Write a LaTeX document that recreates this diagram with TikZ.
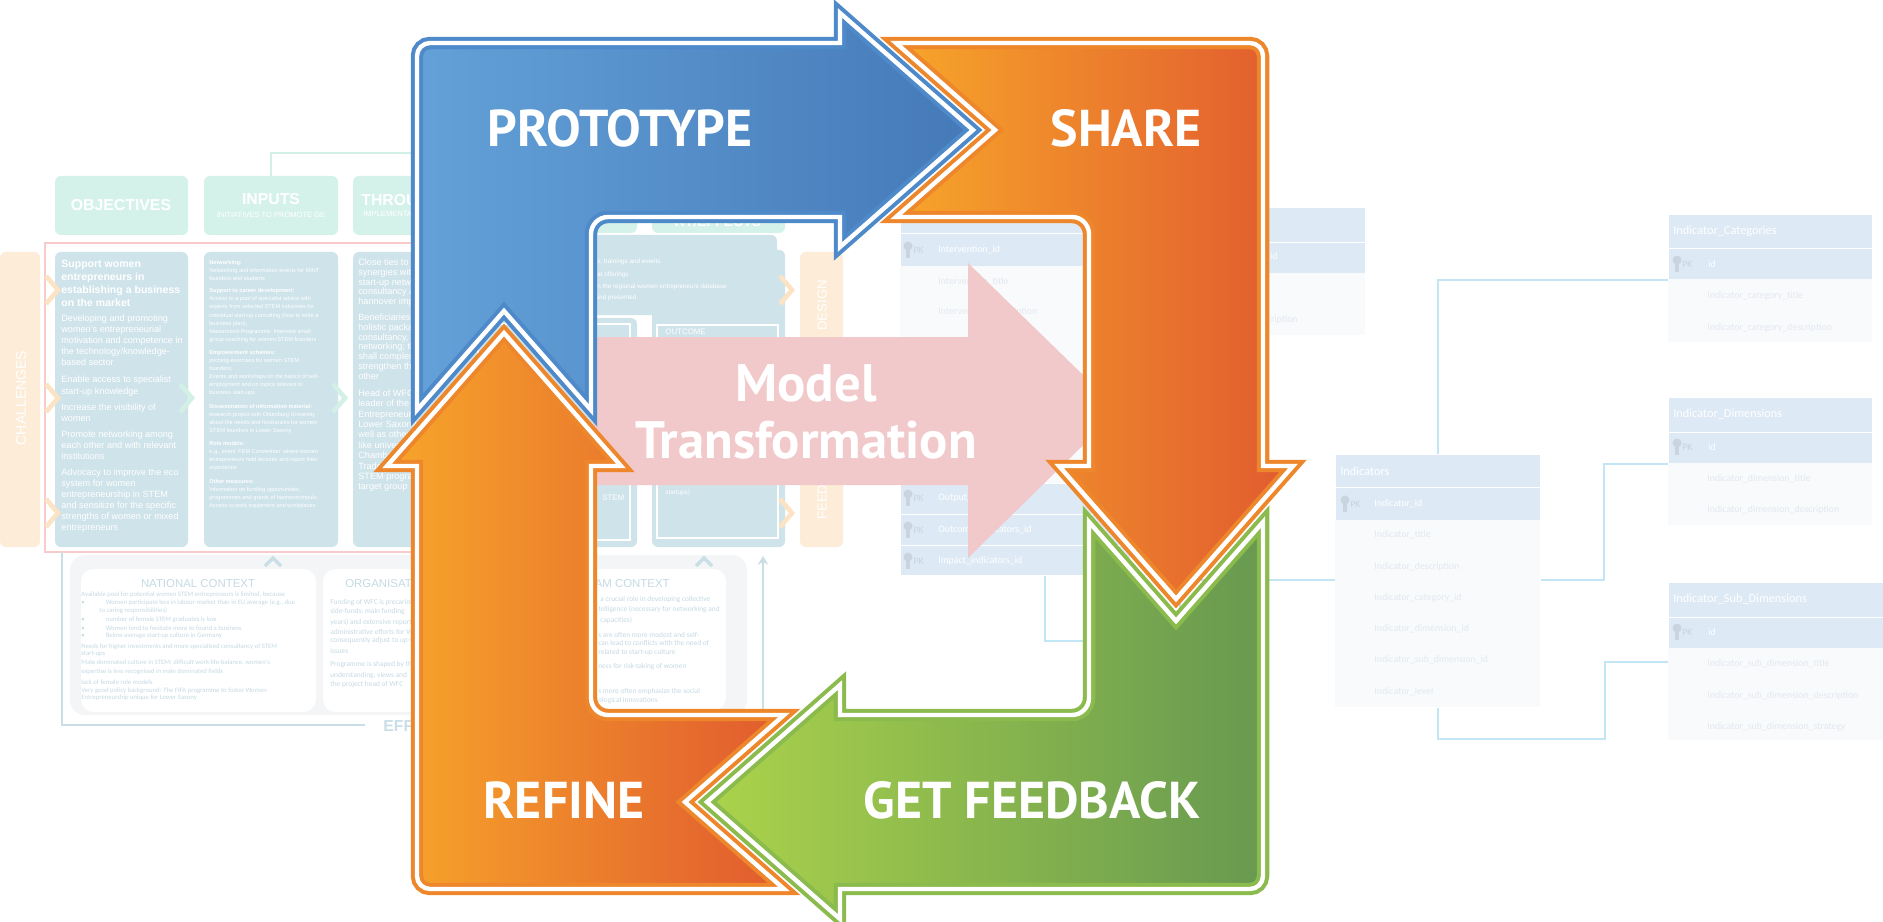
\documentclass[tikz,border=0pt]{standalone}
\usepackage{fontspec}
\setmainfont{Liberation Sans}
\newfontfamily\cycfont{PT Sans}
\newfontfamily\ctxfont{Carlito}
\usetikzlibrary{calc}
\usetikzlibrary{arrows.meta}

\definecolor{mintc}{HTML}{D5F2EA}
\definecolor{mintchev}{HTML}{D2F0E6}
\definecolor{colc}{HTML}{CFE3EA}
\definecolor{peachc}{HTML}{FDEDD8}
\definecolor{peachchev}{HTML}{FBE3C4}
\definecolor{pinkline}{HTML}{F9CACA}
\definecolor{ctxbg}{HTML}{F4F5F6}
\definecolor{ctxtxt}{HTML}{C5DAE4}
\definecolor{frameln}{HTML}{CADEE6}
\definecolor{erhd}{HTML}{DDE9F5}
\definecolor{erbd}{HTML}{F9FAFB}
\definecolor{ertxtc}{HTML}{E2E9F1}
\definecolor{erln}{HTML}{C3E6F6}
\definecolor{keyc}{HTML}{C9D4DE}
\definecolor{modelc}{HTML}{F1C9CA}
\definecolor{blueA}{HTML}{63A1D8}
\definecolor{blueB}{HTML}{4579B8}
\definecolor{blueL}{HTML}{4E8ACA}
\definecolor{orA}{HTML}{F7A62A}
\definecolor{orB}{HTML}{E15A2F}
\definecolor{orL}{HTML}{EE872C}
\definecolor{grA}{HTML}{ABD34B}
\definecolor{grB}{HTML}{679950}
\definecolor{grL}{HTML}{8BBA4D}

\tikzset{
  whtxt/.style={text=white, inner sep=0pt, anchor=north west, align=left},
  ctxtext/.style={text=ctxtxt, inner sep=0pt, anchor=west, font=\ctxfont\fontsize{3.8}{4.4}\selectfont},
  orgtext/.style={text=ctxtxt, inner sep=0pt, anchor=west, font=\ctxfont\fontsize{4.2}{5}\selectfont},
  ctxtitle/.style={text=ctxtxt, inner sep=0pt, font=\fontsize{6.5}{7}\selectfont},
  ertext/.style={inner sep=0pt, anchor=west, font=\ctxfont\fontsize{5.6}{6}\selectfont},
  ertitle/.style={inner sep=0pt, anchor=west, text=white, font=\ctxfont\fontsize{7}{8}\selectfont},
  tblhead/.style={fill=erhd, draw=white, line width=0.5pt, inner sep=0pt, anchor=north west},
  tblbody/.style={fill=erbd, inner sep=0pt, anchor=north west},
  erlink/.style={draw=erln, line width=1.3pt},
  hdrbox/.style={fill=mintc, rounded corners=0.12cm},
  colbox/.style={fill=colc, rounded corners=0.12cm},
  peachbox/.style={fill=peachc, rounded corners=0.12cm},
  chevron/.style={line width=2.6pt, line join=miter},
  caret/.style={draw=frameln, line width=2pt, line join=miter},
  cycarrow/.style={line width=2.3pt, double=white, double distance=2.5pt, line join=miter},
  cyclab/.style={text=white, inner sep=0pt, font=\cycfont\bfseries\fontsize{29.5}{32}\selectfont},
}

% key sign of a primary key row
\newcommand{\pkmark}[3]{%
  \fill[keyc] (#2,#3-4) circle[radius=4.5];
  \fill[keyc] (#2-1.8,#3-1) rectangle (#2+1.8,#3+8);
  \node[ertext, text=keyc] (#1) at (#2+5,#3) {PK};
}
\newcommand{\ertxt}[5]{\node[ertext, text=#4] (#1) at (#2,#3) {#5};}
\newcommand{\ctxline}[4]{\node[ctxtext] (#1) at (#2,#3) {#4};}
\newcommand{\orgline}[4]{\node[orgtext] (#1) at (#2,#3) {#4};}

\begin{document}
\begin{tikzpicture}[x=0.02cm, y=-0.02cm]
\useasboundingbox (0,0) rectangle (1883,922);
\fill[white] (0,0) rectangle (1883,922);

%%% faded logic model (left)
\draw[mintchev, line width=1.4pt] (271,176) -- (271,153) -- (414,153);
\path[hdrbox] (55,176) rectangle (188,235);
\path[hdrbox] (204,176) rectangle (338,235);
\path[hdrbox] (353,176) rectangle (490,235);
\node[text=white, font=\bfseries\fontsize{9}{10}\selectfont] (objh) at (121,205) {OBJECTIVES};
\node[text=white, font=\bfseries\fontsize{9}{10}\selectfont] (inph) at (271,199) {INPUTS};
\node[text=white, font=\fontsize{4.3}{5}\selectfont] (inpsub) at (271,215) {INITIATIVES TO PROMOTE GE};
\node[text=white, anchor=west, inner sep=0pt, font=\bfseries\fontsize{9}{10}\selectfont] (thrh) at (361,200) {THROU};
\node[text=white, anchor=west, inner sep=0pt, font=\fontsize{4.3}{5}\selectfont] (thrsub) at (363,214) {IMPLEMENTAT};

\draw[pinkline, line width=1.4pt] (45,243) rectangle (560,552);
\path[peachbox] (0,252) rectangle (40,547);
\node[text=white, rotate=90, font=\fontsize{8}{9}\selectfont] (chal) at (21,398) {CHALLENGES};
\path[colbox] (55,252) rectangle (188,547);
\path[colbox] (204,252) rectangle (338,547);
\path[colbox] (353,252) rectangle (500,547);

\foreach \yy in {290,398,513}
  \draw[chevron, peachchev] (46,\yy-14) -- (58,\yy) -- (46,\yy+14);
\draw[chevron, mintchev] (180,384) -- (192,398) -- (180,412);
\draw[chevron, mintchev] (333,384) -- (345,398) -- (333,412);

\node[whtxt, font=\bfseries\fontsize{6}{7.3}\selectfont] (objA) at (61,260)
  {Support women\\entrepreneurs in\\establishing a business\\on the market};
\node[whtxt, font=\fontsize{5.2}{6.3}\selectfont] (objB) at (61,314.5)
  {Developing and promoting\\women's entrepreneurial\\motivation and competence in\\the technology/knowledge-\\based sector};
\node[whtxt, font=\fontsize{5.2}{6.6}\selectfont] (objC) at (61,375.5)
  {Enable access to specialist\\start-up knowledge};
\node[whtxt, font=\fontsize{5.2}{6.3}\selectfont] (objD) at (61,403.5)
  {Increase the visibility of\\women};
\node[whtxt, font=\fontsize{5.2}{6.3}\selectfont] (objE) at (61,430.5)
  {Promote networking among\\each other and with relevant\\institutions};
\node[whtxt, font=\fontsize{5.2}{6.3}\selectfont] (objF) at (61,468.5)
  {Advocacy to improve the eco\\system for women\\entrepreneurship in STEM\\and sensitize for the specific\\strengths of women or mixed\\entrepreneurs};

\node[whtxt, font=\fontsize{3.2}{4.6}\selectfont] (inA) at (209,260)
  {\textbf{Networking:}\\Networking and information events for MINT\\founders and students};
\node[whtxt, font=\fontsize{3.2}{4.7}\selectfont] (inB) at (209,288)
  {\textbf{Support to career development:}\\Access to a pool of specialist advice with\\experts from selected STEM industries for\\individual start-up consulting (how to write a\\business plan);\\Mastermind-Programme: Intensive small\\group-coaching for women STEM founders};
\node[whtxt, font=\fontsize{3.2}{4.6}\selectfont] (inC) at (209,350)
  {\textbf{Empowerment schemes:}\\pitching-exercises for women STEM\\founders;\\Events and workshops on the basics of self-\\employment and on topics relevant to\\business start-ups};
\node[whtxt, font=\fontsize{3.2}{4.6}\selectfont] (inD) at (209,404)
  {\textbf{Dissemination of information material:}\\research project with Oldenburg University\\about the needs and hindrances for women\\STEM founders in Lower Saxony};
\node[whtxt, font=\fontsize{3.2}{4.6}\selectfont] (inE) at (209,441)
  {\textbf{Role models:}\\e.g., event `FEM Convention' where women\\entrepreneurs hold lectures and report their\\experience};
\node[whtxt, font=\fontsize{3.2}{4.6}\selectfont] (inF) at (209,479)
  {\textbf{Other measures:}\\Information on funding opportunities,\\programmes and grants of hannoverimpuls;\\Access to work equipment and workplaces};

\node[whtxt, font=\fontsize{5.2}{5.6}\selectfont] (thA) at (358,258.5)
  {Close ties to h\\synergies with\\start-up netwo\\consultancy a\\hannover impu};
\node[whtxt, font=\fontsize{5.2}{5.6}\selectfont] (thB) at (358,313.5)
  {Beneficiaries r\\holistic packag\\consultancy, c\\networking; th\\shall complem\\strengthen the\\other};
\node[whtxt, font=\fontsize{5.2}{5.9}\selectfont] (thC) at (358,389.5)
  {Head of WFC\\leader of the W\\Entrepreneurs\\Lower Saxony\\well as other\\like univers\\Chamber of Indu\\Trade\\STEM program\\target group};

%%% context area
\draw[frameln, line width=1.4pt] (62,552) -- (62,725) -- (365,725);
\node[text=frameln, anchor=west, inner sep=0pt, font=\bfseries\fontsize{9}{10}\selectfont] (effh) at (383,726) {EFFEC};
\path[fill=ctxbg, rounded corners=0.3cm] (70,555) rectangle (747,715);
\path[fill=white, rounded corners=0.25cm] (81,569) rectangle (316,712);
\path[fill=white, rounded corners=0.25cm] (323,569) rectangle (520,712);
\path[fill=white, rounded corners=0.25cm] (540,569) rectangle (726,710);
\draw[caret] (265,566) -- (273,558) -- (281,566);
\draw[caret] (696,566) -- (704,558) -- (712,566);
\draw[frameln, line width=1.4pt, -{Stealth[length=5pt, width=6pt]}] (763,720) -- (763,556);

\node[ctxtitle] (natt) at (198,584) {NATIONAL CONTEXT};
\ctxline{nat1}{81}{595}{Available pool for potential women STEM entrepreneurs is limited, because}
\ctxline{nat2}{81}{603}{\textbullet\hspace{12pt}Women participate less in labour market than in EU average (e.g., due}
\ctxline{nat3}{99}{611}{to caring responsibilities)}
\ctxline{nat4}{81}{620}{\textbullet\hspace{12pt}number of female STEM graduates is low}
\ctxline{nat5}{81}{628}{\textbullet\hspace{12pt}Women tend to hesitate more to found a business}
\ctxline{nat6}{81}{636}{\textbullet\hspace{12pt}Below-average start-up culture in Germany}
\ctxline{nat7}{81}{647}{Needs for higher investments and more specialised consultancy of STEM}
\ctxline{nat8}{81}{654}{start-ups}
\ctxline{nat9}{81}{663}{Male dominated culture in STEM: difficult work-life-balance, women's}
\ctxline{nat10}{81}{672}{expertise is less recognised in male dominated fields}
\ctxline{nat11}{81}{682}{lack of female role models}
\ctxline{nat12}{81}{691}{Very good policy background: The FIFA programme to foster Women}
\ctxline{nat13}{81}{698}{Entrepreneurship unique for Lower Saxony}

\node[ctxtitle, anchor=west] (orgt) at (345,584) {ORGANISATIONAL CONTEXT};
\orgline{org1}{330}{603}{Funding of WFC is precarious}
\orgline{org2}{330}{612}{side-funds; main funding}
\orgline{org3}{330}{622}{years) and extensive reporting}
\orgline{org4}{330}{632}{administrative efforts for WFC}
\orgline{org5}{330}{641}{consequently adjust to up-to-}
\orgline{org6}{330}{651}{issues}
\orgline{org7}{330}{665}{Programme is shaped by the}
\orgline{org8}{330}{676}{understanding, views and}
\orgline{org9}{330}{685}{the project head of WFC}

\node[ctxtitle, anchor=east] (teamt) at (670,584) {TEAM CONTEXT};
\orgline{team1}{600}{600}{a crucial role in developing collective}
\orgline{team2}{598}{609}{telligence (necessary for networking and}
\orgline{team3}{600}{620}{capacities)}
\orgline{team4}{598}{635}{s are often more modest and self-}
\orgline{team5}{598}{643}{can lead to conflicts with the need of}
\orgline{team6}{598}{653}{related to start-up culture}
\orgline{team7}{598}{667}{ness for risk-taking of women}
\orgline{team8}{598}{692}{s more often emphasize the social}
\orgline{team9}{598}{701}{ological innovations}

%%% faded logic model (middle)
\path[hdrbox] (470,190) rectangle (637,233);
\path[hdrbox] (652,190) rectangle (785,233);
\node[text=white, font=\bfseries\fontsize{8}{9}\selectfont] (rteff) at (718,222) {RT/EFFECTS};
\path[colbox] (470,318) rectangle (637,547);
\path[colbox] (652,250) rectangle (785,547);
\path[colbox] (470,235) rectangle (777,315);
\draw[white, line width=0.8pt] (478,324) rectangle (630,540);
\draw[white, line width=0.8pt] (657,325) rectangle (778,538);
\node[text=white, anchor=west, inner sep=0pt, font=\fontsize{4.5}{5}\selectfont] (outc) at (665,332) {OUTCOME};
\node[text=white, anchor=west, inner sep=0pt, font=\fontsize{4.5}{5}\selectfont] (stem) at (602,498) {STEM};
\node[text=white, anchor=west, inner sep=0pt, font=\fontsize{3.6}{4}\selectfont] (startups) at (665,493) {startups)};
\node[whtxt, anchor=west, font=\fontsize{3.6}{4}\selectfont] (sh1) at (585,262) {hings, trainings and events};
\node[whtxt, anchor=west, font=\fontsize{3.6}{4}\selectfont] (sh2) at (585,275) {ting at offerings};
\node[whtxt, anchor=west, font=\fontsize{3.6}{4}\selectfont] (sh3) at (585,287) {ers in the regional women entrepreneurs database};
\node[whtxt, anchor=west, font=\fontsize{3.6}{4}\selectfont] (sh4) at (585,298) {ted and presented};
\draw[chevron, peachchev] (780,276) -- (792,290) -- (780,304);
\draw[chevron, peachchev] (780,499) -- (792,513) -- (780,527);
\path[peachbox] (800,252) rectangle (843,547);
\node[text=white, rotate=90, anchor=west, inner sep=0pt, font=\fontsize{7.5}{8}\selectfont] (dsgn) at (822,331) {DESIGN};
\node[text=white, rotate=90, anchor=west, inner sep=0pt, font=\fontsize{7.5}{8}\selectfont] (fdbk) at (822,520) {FEEDBACK};

%%% faded data model (right)
\node[tblhead, minimum width=4.6cm, minimum height=0.52cm] (inth) at (900,207) {};
\node[tblhead, minimum width=4.6cm, minimum height=0.66cm] (intpk) at (900,233) {};
\node[tblbody, minimum width=4.6cm, minimum height=4.34cm] (intb) at (900,266) {};
\node[tblhead, minimum width=4.6cm, minimum height=0.62cm] (into1) at (900,483) {};
\node[tblhead, minimum width=4.6cm, minimum height=0.62cm] (into2) at (900,514) {};
\node[tblhead, minimum width=4.6cm, minimum height=0.60cm] (into3) at (900,545) {};
\pkmark{intk1}{908}{250}
\ertxt{intid}{938}{250}{white}{Intervention\_id}
\ertxt{inttl}{938}{282}{ertxtc}{Intervention\_title}
\ertxt{intds}{938}{312}{ertxtc}{Intervention\_description}
\ertxt{intsh}{938}{343}{ertxtc}{Intervention\_short}
\pkmark{intk2}{908}{498}
\ertxt{intout}{938}{498}{white}{Output\_indicators\_id}
\pkmark{intk3}{908}{530}
\ertxt{intoc}{938}{530}{white}{Outcome\_indicators\_id}
\pkmark{intk4}{908}{561}
\ertxt{intim}{938}{561}{white}{Impact\_indicators\_id}

\node[tblhead, minimum width=3.7cm, minimum height=0.70cm] (upth) at (1180,207) {};
\node[tblhead, minimum width=3.7cm, minimum height=0.62cm] (uptpk) at (1180,242) {};
\node[tblbody, minimum width=3.7cm, minimum height=1.24cm] (uptb) at (1180,273) {};
\node[ertext, text=white, anchor=east] (uptid) at (1278,257) {\_id};
\node[ertext, text=ertxtc, anchor=east] (uptds) at (1298,320) {\_description};

\node[tblhead, minimum width=4.1cm, minimum height=0.66cm] (indh) at (1335,454) {};
\node[tblhead, minimum width=4.1cm, minimum height=0.66cm] (indpk) at (1335,487) {};
\node[tblbody, minimum width=4.1cm, minimum height=3.74cm] (indb) at (1335,520) {};
\node[ertitle] (indt) at (1340,471) {Indicators};
\pkmark{indk}{1345}{504}
\ertxt{ind1}{1374}{504}{white}{Indicator\_id}
\ertxt{ind2}{1374}{535}{ertxtc}{Indicator\_title}
\ertxt{ind3}{1374}{567}{ertxtc}{Indicator\_description}
\ertxt{ind4}{1374}{598}{ertxtc}{Indicator\_category\_id}
\ertxt{ind5}{1374}{629}{ertxtc}{Indicator\_dimension\_id}
\ertxt{ind6}{1374}{660}{ertxtc}{Indicator\_sub\_dimension\_id}
\ertxt{ind7}{1374}{692}{ertxtc}{Indicator\_level}

\node[tblhead, minimum width=4.08cm, minimum height=0.68cm] (cath) at (1668,214) {};
\node[tblhead, minimum width=4.08cm, minimum height=0.62cm] (catpk) at (1668,248) {};
\node[tblbody, minimum width=4.08cm, minimum height=1.26cm] (catb) at (1668,279) {};
\node[ertitle] (catt) at (1673,231) {Indicator\_Categories};
\pkmark{catk}{1677}{264}
\ertxt{cat1}{1708}{264}{white}{id}
\ertxt{cat2}{1707}{296}{ertxtc}{Indicator\_category\_title}
\ertxt{cat3}{1707}{328}{ertxtc}{Indicator\_category\_description}

\node[tblhead, minimum width=4.08cm, minimum height=0.70cm] (dimh) at (1668,397) {};
\node[tblhead, minimum width=4.08cm, minimum height=0.62cm] (dimpk) at (1668,432) {};
\node[tblbody, minimum width=4.08cm, minimum height=1.24cm] (dimb) at (1668,463) {};
\node[ertitle] (dimt) at (1673,414) {Indicator\_Dimensions};
\pkmark{dimk}{1677}{447}
\ertxt{dim1}{1708}{447}{white}{id}
\ertxt{dim2}{1707}{479}{ertxtc}{Indicator\_dimension\_title}
\ertxt{dim3}{1707}{510}{ertxtc}{Indicator\_dimension\_description}

\node[tblhead, minimum width=4.3cm, minimum height=0.70cm] (subh) at (1668,582) {};
\node[tblhead, minimum width=4.3cm, minimum height=0.62cm] (subpk) at (1668,617) {};
\node[tblbody, minimum width=4.3cm, minimum height=1.84cm] (subb) at (1668,648) {};
\node[ertitle] (subt) at (1673,599) {Indicator\_Sub\_Dimensions};
\pkmark{subk}{1677}{632}
\ertxt{sub1}{1708}{632}{white}{id}
\ertxt{sub2}{1707}{664}{ertxtc}{Indicator\_sub\_dimension\_title}
\ertxt{sub3}{1707}{696}{ertxtc}{Indicator\_sub\_dimension\_description}
\ertxt{sub4}{1707}{727}{ertxtc}{Indicator\_sub\_dimension\_strategy}

\coordinate (indR) at ($(indb.north east)+(0,60)$);
\coordinate (indL) at ($(indb.north west)+(0,60)$);
\coordinate (intOut) at ($(into3.south west)+(145,0)$);
\draw[erlink] (indh.north) |- (catpk.south west);
\draw[erlink] (indR) -- ++(63,0) |- (dimpk.south west);
\draw[erlink] (indb.south) -- ++(0,31) -- ++(167,0) |- ($(subpk.south west)+(0,13)$);
\draw[erlink] (intOut) -- ++(0,65) -- ++(135,0) |- (indL);

%%% model transformation
\fill[modelc] (593,337) -- (968,337) -- (968,263) -- (1119,410) -- (968,558) -- (968,485) -- (593,485) -- cycle;
\node[text=white, align=center, inner sep=0pt, font=\cycfont\bfseries\fontsize{30}{32.3}\selectfont] (model) at (806,412) {Model\\Transformation};

%%% the cycle
\begin{scope}[shift={(840,466)}]
\shadedraw[cycarrow, draw=blueL, left color=blueA, right color=blueB]
  (-423,-56) -- (-336,-155) -- (-249,-56)
  [rounded corners=0.34cm] -- (-249,-249) [sharp corners]
  -- (0,-249) -- (0,-219) -- (133,-336) -- (0,-453) -- (0,-423)
  [rounded corners=0.26cm] -- (-423,-423) [sharp corners] -- cycle;
\shadedraw[cycarrow, draw=orL, left color=orA, right color=orB]
  (56,-423) -- (155,-336) -- (56,-249)
  [rounded corners=0.34cm] -- (249,-249) [sharp corners]
  -- (249,0) -- (219,0) -- (336,133) -- (453,0) -- (423,0)
  [rounded corners=0.26cm] -- (423,-423) [sharp corners] -- cycle;
\shadedraw[cycarrow, draw=grL, left color=grA, right color=grB]
  (423,56) -- (336,155) -- (249,56)
  [rounded corners=0.34cm] -- (249,249) [sharp corners]
  -- (0,249) -- (0,219) -- (-133,336) -- (0,453) -- (0,423)
  [rounded corners=0.26cm] -- (423,423) [sharp corners] -- cycle;
\shadedraw[cycarrow, draw=orL, left color=orA, right color=orB]
  (-56,423) -- (-155,336) -- (-56,249)
  [rounded corners=0.34cm] -- (-249,249) [sharp corners]
  -- (-249,0) -- (-219,0) -- (-336,-133) -- (-453,0) -- (-423,0)
  [rounded corners=0.26cm] -- (-423,423) [sharp corners] -- cycle;
\end{scope}

\node[cyclab] (proto) at (620,128) {PROTOTYPE};
\node[cyclab] (share) at (1126,128) {SHARE};
\node[cyclab] (refine) at (564,800) {REFINE};
\node[cyclab] (getfb) at (1032,800) {GET FEEDBACK};
\end{tikzpicture}
\end{document}
